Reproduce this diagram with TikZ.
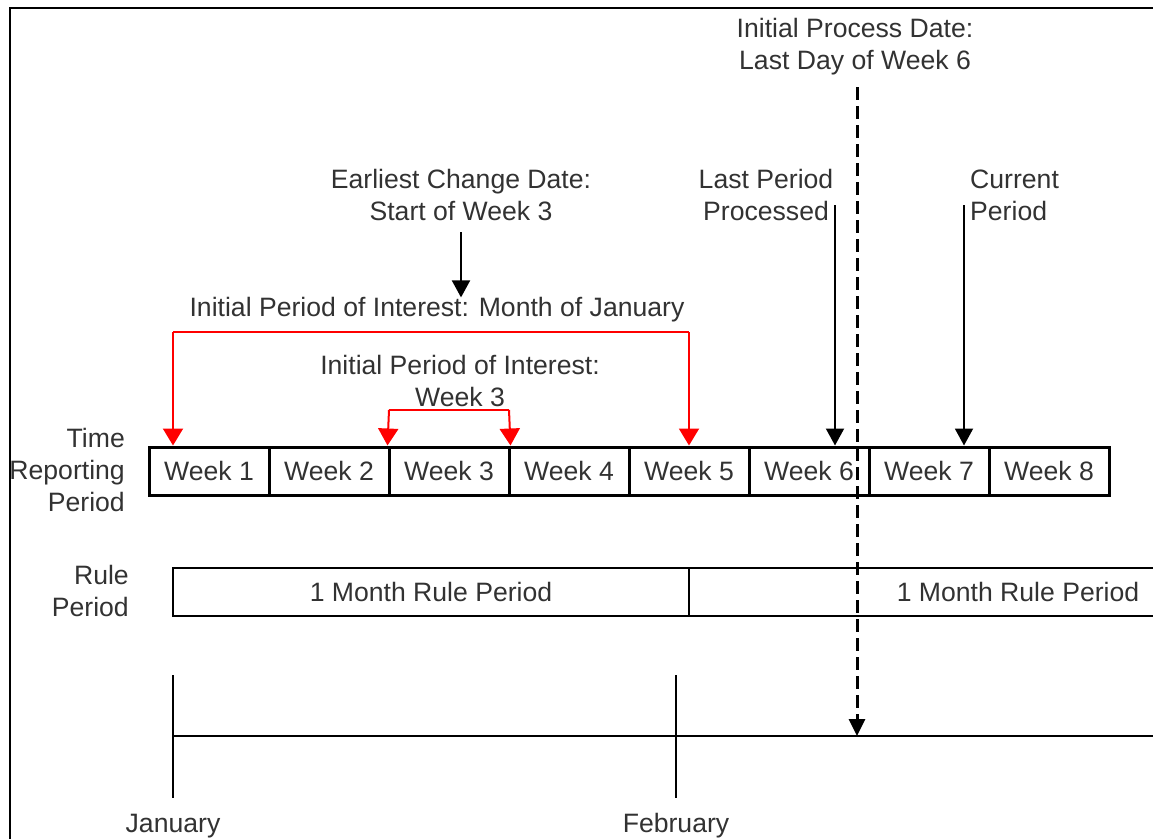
\documentclass[tikz,border=0pt]{standalone}
\usepackage{fontspec}
\setmainfont{Liberation Sans}
\usetikzlibrary{arrows.meta}
\definecolor{labelgray}{RGB}{50,50,50}
\definecolor{bracketred}{RGB}{255,0,0}

\begin{document}
\begin{tikzpicture}[x=1pt, y=-1pt,
    every node/.style={font=\fontsize{26.6}{32}\selectfont, text=labelgray, inner sep=0pt},
    week/.style={draw=black, line width=3pt, minimum width=120pt, minimum height=48pt},
    rulebox/.style={draw=black, line width=2.5pt, minimum height=48pt},
    tag/.style={align=center},
    redarrow/.style={draw=bracketred, line width=2pt, -{Triangle[width=20pt,length=17pt]}},
    redline/.style={draw=bracketred, line width=2pt},
    blackarrow/.style={line width=2pt, -{Triangle[width=18pt,length=17pt]}},
    tick/.style={line width=2pt}
]
\useasboundingbox (0,0) rectangle (1153,839);
\clip (0,0) rectangle (1153,839);

% frame
\draw[line width=2pt] (10,839) -- (10,8) -- (1153,8);

% time reporting periods
\foreach \i in {1,...,8}
  \node[week] (w\i) at ({89+120*\i}, 471) {Week \i};
\node[tag, align=right, anchor=east] (trp) at (125,470) {Time\\Reporting\\Period};

% rule periods
\node[rulebox, minimum width=516pt] (rule1) at (431,592) {1 Month Rule Period};
\node[rulebox, minimum width=658pt] (rule2) at (1018,592) {1 Month Rule Period};
\node[tag, align=right, anchor=east] (rp) at (129,591) {Rule\\Period};

% timeline
\coordinate (tlstart) at (173,736);
\coordinate (tlend) at (1153,736);
\draw[line width=2.5pt] (tlstart) -- (tlend);
\coordinate (jantop) at (173,675);
\coordinate (febtop) at (676,675);
\draw[tick] (jantop) -- ++(0,123);
\draw[tick] (febtop) -- ++(0,123);
\node (jan) at (173,826) {January};
\node (feb) at (676,826) {February};

% top labels
\node[tag] (procdate) at (855,47) {Initial Process Date:\\Last Day of Week 6};
\node[tag] (lastproc) at (766,195) {Last Period\\Processed};
\node[tag, align=left, anchor=west] (current) at (970,195) {Current\\Period};
\node[tag] (earliest) at (461,195) {Earliest Change Date:\\Start of Week 3};
\node (poimonth) at (437,310) {Initial Period of Interest: Month of January};
\node[tag] (poiweek) at (460,381) {Initial Period of Interest:\\Week 3};

% black arrows
\coordinate (lastpt) at (835,205);
\coordinate (curpt) at (964,205);
\coordinate (earlypt) at (461,232);
\coordinate (procpt) at (857,87);
\draw[blackarrow] (earlypt) -- (earlypt |- poimonth.north);
\draw[blackarrow] (lastpt) -- (lastpt |- w6.north);
\draw[blackarrow] (curpt) -- (curpt |- w7.north);
\draw[line width=3pt, dash pattern=on 13pt off 6pt, -{Triangle[width=16pt,length=17pt]}] (procpt) -- (procpt |- tlstart);

% red brackets
\coordinate (janL) at (173,332);
\coordinate (janR) at (689,332);
\draw[redline] (janL) -- (janR);
\draw[redarrow] (janL) -- (janL |- w1.north);
\draw[redarrow] (janR) -- (janR |- w5.north);
\coordinate (wkL) at (389,410);
\coordinate (wkR) at (509,410);
\draw[redline] (wkL) -- (wkR);
\draw[redarrow] (wkL) -- (w3.north west);
\draw[redarrow] (wkR) -- (w3.north east);
\end{tikzpicture}
\end{document}
